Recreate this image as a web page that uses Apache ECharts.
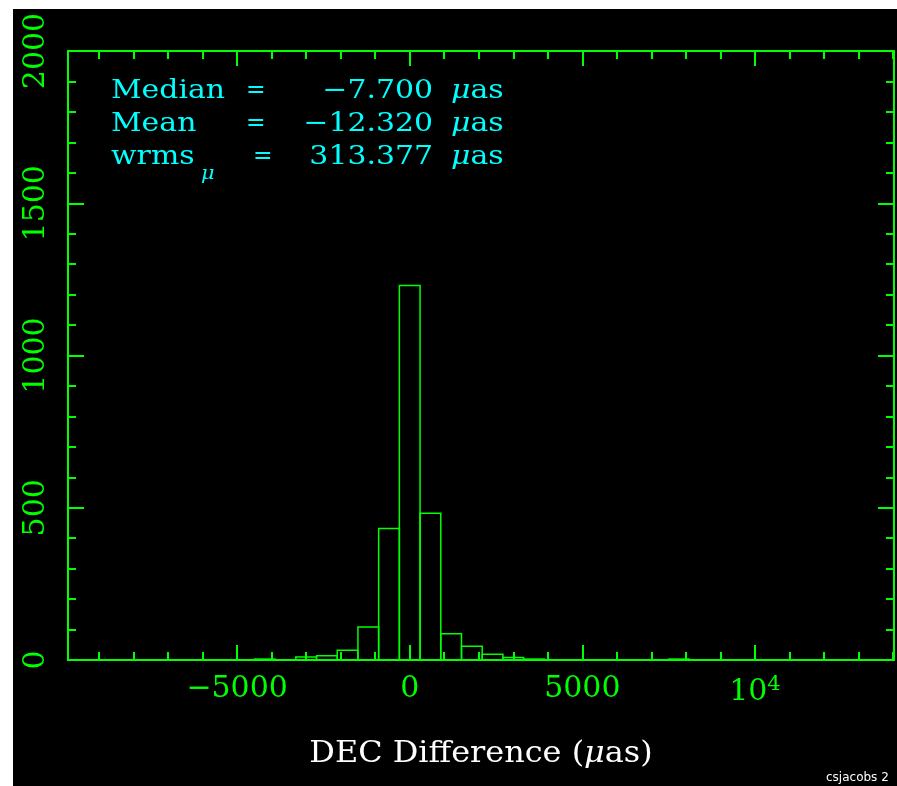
<!DOCTYPE html>
<html>
<head>
<meta charset="utf-8">
<script src="https://cdn.jsdelivr.net/npm/echarts@6/dist/echarts.min.js"></script>
<style>
html,body{margin:0;padding:0;background:#ffffff;}
#chart{width:897px;height:786px;}
</style>
</head>
<body>
<div id="chart"></div>
<script>
// ---- data ----
const binCenters = [-4200, -3600, -3000, -2400, -1800, -1200, -600, 0, 600, 1200, 1800, 2400, 3000, 3600, 4200, 4800, 5400, 6000, 6600, 7200, 7800];
const counts     = [3, 0, 10, 14, 32, 108, 432, 1230, 482, 86, 45, 19, 8, 3, 0, 0, 0, 0, 0, 0, 3];
const binWidth = 600;
const xMajorTicks = [-5000, 0, 5000, 10000];
const xMinorTicks = [-9000, -8000, -7000, -6000, -4000, -3000, -2000, -1000, 1000, 2000, 3000, 4000, 6000, 7000, 8000, 9000, 11000, 12000, 13000, 14000];
const xRange = [-9900, 14030];
const yRange = [0, 2000];
const yMajorStep = 500;
const statsLabels = ['Median', 'Mean', 'wrms'];
const statsValues = ['\u22127.700', '\u221212.320', '313.377'];
const xTitle = 'DEC Difference (';

const GREEN = '#00ff00';
const CYAN = '#00ffff';
const FONT = 'DejaVu Serif';

const chart = echarts.init(document.getElementById('chart'), null, {renderer: 'canvas'});

function xAxisDef(position, ticks, len, showLine, showLabel) {
  return {
    type: 'value', position: position, min: xRange[0], max: xRange[1],
    splitLine: {show: false},
    axisLine: {show: showLine, onZero: false, lineStyle: {color: GREEN, width: 2}},
    axisTick: {show: true, inside: true, length: len, customValues: ticks, lineStyle: {color: GREEN, width: 2}},
    axisLabel: showLabel ? {
      show: true, customValues: xMajorTicks, color: GREEN, fontFamily: FONT, fontSize: 30, margin: 14,
      formatter: function (v) {
        if (v === 10000) return '10{sup|4}';
        if (v < 0) return '\u2212' + Math.abs(v);
        return String(v);
      },
      rich: {sup: {fontSize: 21, fontFamily: FONT, color: GREEN, verticalAlign: 'top', padding: [0, 0, 16, 0]}}
    } : {show: false}
  };
}
function yAxisDef(position, showLabel) {
  return {
    type: 'value', position: position, min: yRange[0], max: yRange[1], interval: yMajorStep,
    splitLine: {show: false},
    axisLine: {show: true, onZero: false, lineStyle: {color: GREEN, width: 2}},
    axisTick: {show: true, inside: true, length: 16, lineStyle: {color: GREEN, width: 2}},
    minorTick: {show: true, splitNumber: 5, length: 8, lineStyle: {color: GREEN, width: 2}},
    axisLabel: showLabel ? {show: true, rotate: 90, color: GREEN, fontFamily: FONT, fontSize: 30, margin: 17,
      formatter: function (v) { return String(v); }} : {show: false}
  };
}

const statY = [91, 124, 157];
const statText = [];
statsLabels.forEach(function (lab, i) {
  statText.push({type: 'text', x: 111, y: statY[i], scaleX: 1.15,
    style: {text: lab, font: '26px "' + FONT + '"', fill: CYAN, verticalAlign: 'middle'}});
  statText.push({type: 'text', x: i === 2 ? 253 : 246, y: statY[i], scaleX: 0.9,
    style: {text: '=', font: '26px "' + FONT + '"', fill: CYAN, verticalAlign: 'middle'}});
  statText.push({type: 'text', x: 433, y: statY[i], scaleX: 1.15,
    style: {text: statsValues[i], font: '26px "' + FONT + '"', fill: CYAN, verticalAlign: 'middle', align: 'right'}});
  statText.push({type: 'text', x: 451, y: statY[i], scaleX: 1.15,
    style: {text: '{i|\u03bc}as', font: '26px "' + FONT + '"', fill: CYAN, verticalAlign: 'middle',
      rich: {i: {fontStyle: 'italic', fontFamily: FONT, fontSize: 26, fill: CYAN, color: CYAN}}}});
});
statText.push({type: 'text', x: 201, y: 174, scaleX: 1.1,
  style: {text: '\u03bc', font: 'italic 19px "' + FONT + '"', fill: CYAN, verticalAlign: 'middle'}});

const option = {
  backgroundColor: '#000000',
  animation: false,
  grid: {left: 68, top: 51, right: 3, bottom: 126, containLabel: false},
  xAxis: [
    xAxisDef('bottom', xMinorTicks, 8, true, true),
    xAxisDef('bottom', xMajorTicks, 15, false, false),
    xAxisDef('top', xMinorTicks, 8, true, false),
    xAxisDef('top', xMajorTicks, 15, false, false)
  ],
  yAxis: [yAxisDef('left', true), yAxisDef('right', false)],
  series: [{
    type: 'custom',
    xAxisIndex: 0, yAxisIndex: 0,
    data: binCenters.map(function (c, i) { return [c, counts[i]]; }),
    renderItem: function (params, api) {
      const c = api.value(0), n = api.value(1);
      if (!n) return null;
      const p0 = api.coord([c - binWidth / 2, 0]);
      const p1 = api.coord([c + binWidth / 2, n]);
      return {type: 'rect',
        shape: {x: p0[0], y: p1[1], width: p1[0] - p0[0], height: p0[1] - p1[1]},
        style: {fill: 'none', stroke: GREEN, lineWidth: 1.5}};
    }
  }],
  graphic: [
    {type: 'rect', left: 0, top: 0, shape: {width: 13, height: 786}, style: {fill: '#ffffff'}, z: 100},
    {type: 'rect', left: 0, top: 0, shape: {width: 897, height: 9}, style: {fill: '#ffffff'}, z: 100},
    {type: 'text', x: 481, y: 754, scaleX: 1.1,
      style: {text: xTitle + '{i|\u03bc}as)', font: '29px "' + FONT + '"', fill: '#ffffff', align: 'center', verticalAlign: 'middle',
        rich: {i: {fontStyle: 'italic', fontFamily: FONT, fontSize: 29, fill: '#ffffff', color: '#ffffff'}}}},
    {type: 'text', x: 826, y: 778,
      style: {text: 'csjacobs 2', font: '12px "DejaVu Sans"', fill: '#ffffff', verticalAlign: 'middle'}}
  ].concat(statText)
};
chart.setOption(option);
</script>
</body>
</html>
